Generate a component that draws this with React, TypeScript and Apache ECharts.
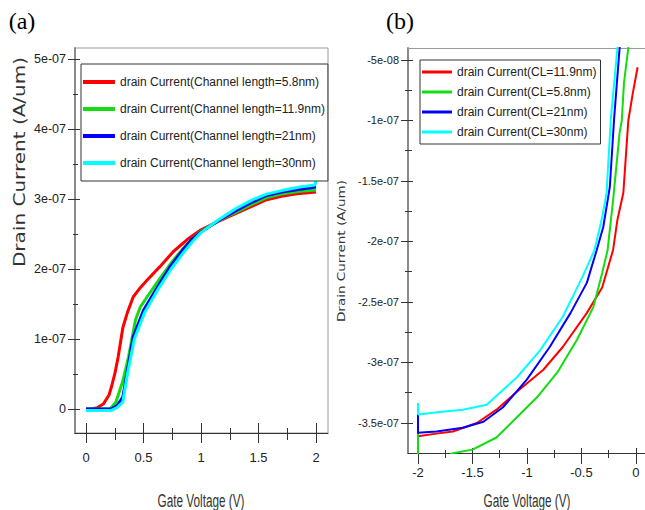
import React, { useEffect, useRef } from "react";
import * as echarts from "echarts";

// ---------- Panel (a): drain current (units of 1e-07 A/um) vs gate voltage (V)
const gateA_red = [0, 0.05, 0.1, 0.15, 0.2, 0.22, 0.25, 0.28, 0.32, 0.36, 0.41, 0.47, 0.53, 0.64, 0.76, 0.88, 1.0, 1.15, 1.3, 1.45, 1.57, 1.7, 1.86, 2.0];
const currA_red = [0, 0, 0.02, 0.07, 0.2, 0.31, 0.5, 0.75, 1.16, 1.38, 1.6, 1.73, 1.84, 2.03, 2.25, 2.42, 2.56, 2.68, 2.79, 2.9, 2.99, 3.04, 3.08, 3.1];
const gateA_green = [0, 0.1, 0.21, 0.26, 0.32, 0.37, 0.43, 0.47, 0.53, 0.64, 0.76, 0.88, 1.0, 1.15, 1.3, 1.45, 1.57, 1.7, 1.86, 2.0];
const currA_green = [0, 0, 0, 0.1, 0.4, 0.75, 1.27, 1.45, 1.6, 1.86, 2.13, 2.36, 2.54, 2.69, 2.81, 2.93, 3.02, 3.07, 3.11, 3.13];
const gateA_blue = [0, 0.1, 0.22, 0.27, 0.32, 0.36, 0.41, 0.5, 0.62, 0.73, 0.84, 0.92, 1.0, 1.15, 1.3, 1.45, 1.57, 1.7, 1.86, 2.0];
const currA_blue = [0, 0, 0, 0.05, 0.17, 0.55, 1.03, 1.41, 1.74, 2.03, 2.27, 2.42, 2.53, 2.69, 2.83, 2.96, 3.05, 3.1, 3.14, 3.17];
const gateA_cyan = [0, 0.1, 0.22, 0.27, 0.32, 0.36, 0.42, 0.51, 0.63, 0.74, 0.85, 0.93, 1.0, 1.15, 1.3, 1.45, 1.57, 1.7, 1.86, 1.99, 2.0];
const currA_cyan = [-0.02, -0.02, -0.02, 0.02, 0.1, 0.5, 1.0, 1.38, 1.72, 2.0, 2.24, 2.4, 2.52, 2.7, 2.86, 2.99, 3.07, 3.12, 3.17, 3.2, 3.27];
const namesA = [
  "drain Current(Channel length=5.8nm)",
  "drain Current(Channel length=11.9nm)",
  "drain Current(Channel length=21nm)",
  "drain Current(Channel length=30nm)",
];

// ---------- Panel (b)
const gateB_red = [-2, -2, -1.85, -1.68, -1.46, -1.28, -1.09, -0.85, -0.67, -0.45, -0.31, -0.21, -0.17, -0.116, -0.07, -0.03, 0.015];
const currB_red = [-3.46, -3.61, -3.59, -3.57, -3.5, -3.39, -3.24, -3.06, -2.87, -2.59, -2.38, -2.07, -1.82, -1.6, -1.0, -0.78, -0.56];
const gateB_green = [-2, -2, -1.85, -1.68, -1.5, -1.28, -1.09, -0.91, -0.72, -0.54, -0.39, -0.31, -0.26, -0.21, -0.15, -0.13, -0.11, -0.07, -0.05];
const currB_green = [-3.59, -3.9, -3.82, -3.75, -3.72, -3.62, -3.45, -3.29, -3.08, -2.81, -2.54, -2.26, -2.07, -1.66, -1.1, -1.0, -0.69, -0.4, -0.2];
const gateB_blue = [-2, -2, -1.83, -1.59, -1.4, -1.22, -1.0, -0.79, -0.6, -0.45, -0.36, -0.3, -0.24, -0.2, -0.15, -0.12];
const currB_blue = [-3.43, -3.58, -3.57, -3.54, -3.49, -3.37, -3.14, -2.87, -2.59, -2.34, -2.07, -1.88, -1.55, -0.98, -0.4, -0.1];
const gateB_cyan = [-2, -2, -1.8, -1.59, -1.37, -1.09, -0.88, -0.67, -0.49, -0.38, -0.31, -0.27, -0.23, -0.17, -0.14];
const currB_cyan = [-3.335, -3.43, -3.41, -3.39, -3.35, -3.12, -2.9, -2.62, -2.29, -2.07, -1.8, -1.6, -0.98, -0.4, -0.1];
const namesB = [
  "drain Current(CL=11.9nm)",
  "drain Current(CL=5.8nm)",
  "drain Current(CL=21nm)",
  "drain Current(CL=30nm)",
];

// ---------- ticks
const xTicksA = [0, 0.5, 1, 1.5, 2];
const xTickLabelsA = ["0", "0.5", "1", "1.5", "2"];
const xMinorA = [0.25, 0.75, 1.25, 1.75];
const yTicksA = [0, 1, 2, 3, 4, 5];
const yTickLabelsA = ["0", "1e-07", "2e-07", "3e-07", "4e-07", "5e-07"];
const yMinorA = [0.5, 1.5, 2.5, 3.5, 4.5];
const xTicksB = [-2, -1.5, -1, -0.5, 0];
const xTickLabelsB = ["-2", "-1.5", "-1", "-0.5", "0"];
const xMinorB = [-1.75, -1.25, -0.75, -0.25];
const yTicksB = [-3.5, -3, -2.5, -2, -1.5, -1, -0.5];
const yTickLabelsB = ["-3.5e-07", "-3e-07", "-2.5e-07", "-2e-07", "-1.5e-07", "-1e-07", "-5e-08"];
const yMinorB = [-3.25, -2.75, -2.25, -1.75, -1.25, -0.75];

const colors = ["#ff0000", "#11dd11", "#0000ff", "#00ffff"];
const SANS = "'Liberation Sans', Arial, sans-serif";

const pairs = (xs: number[], ys: number[]) => xs.map((x, i) => [x, ys[i]]);
const lookup = (ticks: number[], labels: string[]) => (v: number) => {
  const i = ticks.findIndex((t) => Math.abs(t - v) < 1e-9);
  return i >= 0 ? labels[i] : "";
};

function axisSet(
  dim: "x" | "y",
  gridIndex: number,
  min: number,
  max: number,
  majors: number[],
  minors: number[],
  fmt: (v: number) => string,
  opt: any
) {
  const base = {
    type: "value",
    gridIndex,
    min,
    max,
    position: dim === "x" ? "bottom" : "left",
    splitLine: { show: false },
  };
  const tickStyle = { color: "#333", width: 1 };
  const main = {
    ...base,
    axisLine: { show: true, onZero: false, lineStyle: { color: opt.lineColor, width: opt.lineWidth } },
    axisTick: { show: true, inside: false, length: opt.majOut, customValues: majors, lineStyle: tickStyle },
    axisLabel: {
      show: true,
      customValues: majors,
      formatter: fmt,
      margin: opt.margin,
      fontFamily: SANS,
      fontSize: opt.fontSize,
      color: "#222",
    },
  };
  const mk = (vals: number[], inside: boolean, len: number) => ({
    ...base,
    axisLine: { show: false, onZero: false },
    axisLabel: { show: false },
    axisTick: { show: true, inside, length: len, customValues: vals, lineStyle: tickStyle },
  });
  return [main, mk(majors, true, opt.majIn), mk(minors, false, opt.minOut), mk(minors, true, opt.minIn)];
}

const series = (
  names: string[],
  data: number[][][],
  xIdx: number,
  yIdx: number,
  width: number
) =>
  names.map((name, i) => ({
    name,
    type: "line",
    xAxisIndex: xIdx,
    yAxisIndex: yIdx,
    data: data[i],
    symbol: "none",
    smooth: false,
    clip: true,
    color: colors[i],
    lineStyle: { color: colors[i], width },
  }));

export default function App() {
  const ref = useRef<HTMLDivElement>(null);
  useEffect(() => {
    if (!ref.current) return;
    const chart = echarts.init(ref.current, null, { renderer: "svg" });
    const xA = axisSet("x", 0, -0.096, 2.104, xTicksA, xMinorA, lookup(xTicksA, xTickLabelsA), {
      lineColor: "#333", lineWidth: 1, majOut: 10, majIn: 10, minOut: 7, minIn: 5, margin: 18, fontSize: 13,
    });
    const yA = axisSet("y", 0, -0.343, 5.157, yTicksA, yMinorA, lookup(yTicksA, yTickLabelsA), {
      lineColor: "#8a8a8a", lineWidth: 2, majOut: 7, majIn: 5, minOut: 2, minIn: 3, margin: 9, fontSize: 12.5,
    });
    const xB = axisSet("x", 1, -2.092, 0.083, xTicksB, xMinorB, lookup(xTicksB, xTickLabelsB), {
      lineColor: "#333", lineWidth: 1, majOut: 11, majIn: 5, minOut: 5, minIn: 3, margin: 13, fontSize: 13,
    });
    const yB = axisSet("y", 1, -3.748, -0.401, yTicksB, yMinorB, lookup(yTicksB, yTickLabelsB), {
      lineColor: "#8a8a8a", lineWidth: 2, majOut: 7, majIn: 5, minOut: 3, minIn: 4, margin: 9, fontSize: 11,
    });
    // top frame line of panel (b)
    const topB = {
      type: "value",
      gridIndex: 1,
      position: "top",
      min: -2.092,
      max: 0.083,
      splitLine: { show: false },
      axisLine: { show: true, onZero: false, lineStyle: { color: "#9a9a9a", width: 1 } },
      axisTick: { show: false },
      axisLabel: { show: false },
    };

    const dataA = [
      pairs(gateA_red, currA_red),
      pairs(gateA_green, currA_green),
      pairs(gateA_blue, currA_blue),
      pairs(gateA_cyan, currA_cyan),
    ];
    const dataB = [
      pairs(gateB_red, currB_red),
      pairs(gateB_green, currB_green),
      pairs(gateB_blue, currB_blue),
      pairs(gateB_cyan, currB_cyan),
    ];

    const txt = (text: string, x: number, y: number, font: string, extra: any = {}) => ({
      type: "text",
      x,
      y,
      ...extra,
      style: {
        text,
        font,
        fill: extra.fill || "#222",
        align: "center",
        verticalAlign: "middle",
        textAlign: "center",
        textVerticalAlign: "middle",
      },
    });

    chart.setOption({
      animation: false,
      backgroundColor: "#ffffff",
      grid: [
        { left: 75, top: 48, width: 253, height: 385, show: true, borderColor: "#9a9a9a", borderWidth: 1, containLabel: false },
        { left: 408, top: 48, width: 237, height: 405, show: false, containLabel: false },
      ],
      xAxis: [...xA, ...xB, topB],
      yAxis: [...yA, ...yB],
      legend: [
        {
          orient: "vertical",
          left: 81,
          top: 64,
          data: namesA,
          icon: "rect",
          itemWidth: 32,
          itemHeight: 4,
          itemGap: 9,
          padding: [9, 3, 9, 2],
          borderColor: "#333",
          borderWidth: 1,
          backgroundColor: "#ffffff",
          selectedMode: false,
          textStyle: { fontFamily: SANS, fontSize: 12, lineHeight: 18, color: "#222" },
        },
        {
          orient: "vertical",
          left: 420,
          top: 60,
          data: namesB,
          icon: "rect",
          itemWidth: 30,
          itemHeight: 3,
          itemGap: 6,
          padding: [5, 4, 5, 2],
          borderColor: "#333",
          borderWidth: 1,
          backgroundColor: "#ffffff",
          selectedMode: false,
          textStyle: { fontFamily: SANS, fontSize: 12, lineHeight: 14, color: "#222" },
        },
      ],
      series: [...series(namesA, dataA, 0, 0, 3), ...series(namesB, dataB, 4, 4, 2)],
      graphic: [
        txt("(a)", 22, 21, "24px 'Liberation Serif', serif", { fill: "#000" }),
        txt("(b)", 400, 21, "24px 'Liberation Serif', serif", { fill: "#000" }),
        txt("Drain Current (A/um)", 19, 162, "16px 'DejaVu Sans'", { rotation: Math.PI / 2, scaleX: 1.25, fill: "#333" }),
        txt("Drain Current (A/um)", 341, 251, "11px 'DejaVu Sans'", { rotation: Math.PI / 2, scaleX: 1.23, fill: "#333" }),
        txt("Gate Voltage (V)", 201, 500, "19px 'Liberation Sans'", { scaleX: 0.62, fill: "#333" }),
        txt("Gate Voltage (V)", 527, 500, "19px 'Liberation Sans'", { scaleX: 0.62, fill: "#333" }),
      ],
    });
    return () => chart.dispose();
  }, []);
  return (
    <div
      ref={ref}
      style={{ position: "fixed", left: 0, top: 0, width: 645, height: 510, background: "#fff" }}
    />
  );
}
